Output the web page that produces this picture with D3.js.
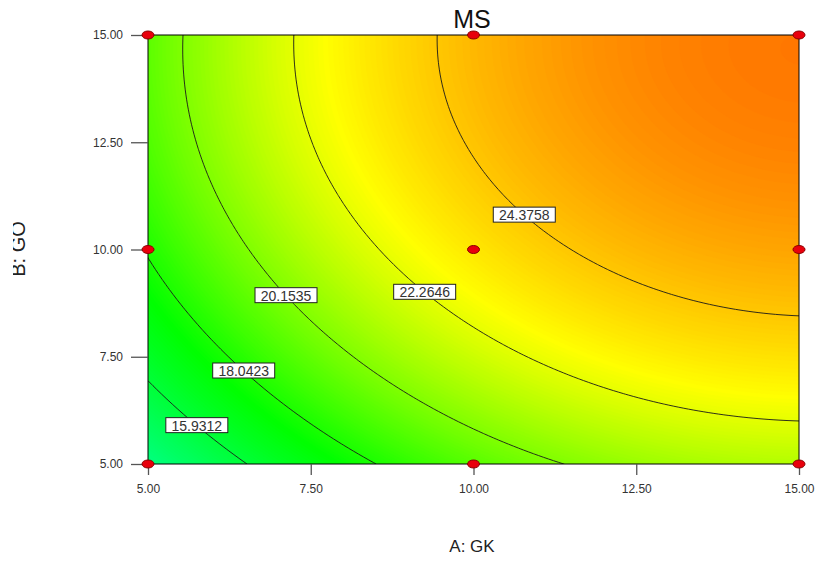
<!DOCTYPE html>
<html>
<head>
<meta charset="utf-8">
<script src="https://cdn.jsdelivr.net/npm/d3@7"></script>
<style>
  body { margin: 0; background: #fff; }
  svg text { font-family: Arial, "Liberation Sans", sans-serif; }
</style>
</head>
<body>
<div id="chart"></div>
<script>
// factor levels (design points) and predicted MS at each of them, rows = B, cols = A
const levelsA = [5, 10, 15];
const levelsB = [5, 10, 15];
const msAtDesign = [
  [13.95, 19.28, 21.2],  // B = 5
  [18.15, 23.45, 25.35], // B = 10
  [19.4, 24.8, 26.6]     // B = 15
];
const contourLevels = [15.9312, 18.0423, 20.1535, 22.2646, 24.3758];
const labelAtA = [5.75, 6.47, 7.12, 9.25, 10.78];
const ticks = [5, 7.5, 10, 12.5, 15];
const colorValues = [10.5, 17.5, 22.8, 30];
const colorRange = ['#00ffff', '#00ff00', '#ffff00', '#ff0000'];

let W = 820, H = 561;
let margin = { top: 35, right: 21, bottom: 97, left: 148 };
let pw = W - margin.left - margin.right;
let ph = H - margin.top - margin.bottom;

let x = d3.scaleLinear().domain([5, 15]).range([margin.left, margin.left + pw]);
let y = d3.scaleLinear().domain([5, 15]).range([margin.top + ph, margin.top]);
let color = d3.scaleLinear().domain(colorValues).range(colorRange).clamp(true);

// quadratic response surface through the design point values
function lag(u) { return [u * (u - 1) / 2, 1 - u * u, u * (u + 1) / 2]; }
function ms(a, b) {
  let u = (a - levelsA[1]) / (levelsA[2] - levelsA[1]);
  let v = (b - levelsB[1]) / (levelsB[2] - levelsB[1]);
  let lu = lag(u), lv = lag(v), s = 0;
  for (let j = 0; j < 3; j++)
    for (let i = 0; i < 3; i++) s += msAtDesign[j][i] * lu[i] * lv[j];
  return s;
}

let nx = 131, ny = 87;
let values = new Array(nx * ny);
for (let j = 0; j < ny; j++) {
  for (let i = 0; i < nx; i++) {
    let a = 5 + 10 * i / (nx - 1);
    let b = 15 - 10 * j / (ny - 1);
    values[j * nx + i] = ms(a, b);
  }
}
let proj = d3.geoTransform({
  point: function(gx, gy) {
    this.stream.point(
      margin.left + (gx - 0.5) / (nx - 1) * pw,
      margin.top + (gy - 0.5) / (ny - 1) * ph);
  }
});
let path = d3.geoPath(proj);

let svg = d3.select('#chart').append('svg')
  .attr('width', W).attr('height', H);

svg.append('defs').append('clipPath').attr('id', 'plotclip')
  .append('rect')
  .attr('x', margin.left).attr('y', margin.top)
  .attr('width', pw).attr('height', ph);
svg.select('defs').append('clipPath').attr('id', 'leftclip')
  .append('rect').attr('x', 13).attr('y', 0).attr('width', W).attr('height', H);

let plot = svg.append('g').attr('clip-path', 'url(#plotclip)');

// smooth colour fill built from many thin bands
let ext = d3.extent(values);
let bands = d3.range(Math.floor(ext[0] * 10) / 10 - 0.1, ext[1] + 0.1, 0.08);
plot.append('g')
  .selectAll('path')
  .data(d3.contours().size([nx, ny]).thresholds(bands)(values))
  .enter().append('path')
  .attr('d', path)
  .attr('fill', d => color(d.value + 0.04))
  .attr('stroke', d => color(d.value + 0.04))
  .attr('stroke-width', 0.6);

// labelled contour lines
plot.append('g')
  .selectAll('path')
  .data(d3.contours().size([nx, ny]).thresholds(contourLevels)(values))
  .enter().append('path')
  .attr('d', path)
  .attr('fill', 'none')
  .attr('stroke', '#1a1a1a')
  .attr('stroke-width', 0.9);

// frame
svg.append('rect')
  .attr('x', margin.left).attr('y', margin.top)
  .attr('width', pw).attr('height', ph)
  .attr('fill', 'none').attr('stroke', '#000').attr('stroke-width', 1);

// axes
let fmt = d3.format('.2f');
let gx = svg.append('g')
  .attr('transform', `translate(0, ${margin.top + ph})`)
  .call(d3.axisBottom(x).tickValues(ticks).tickFormat(fmt).tickSize(11).tickPadding(9));
let gy = svg.append('g')
  .attr('transform', `translate(${margin.left}, 0)`)
  .call(d3.axisLeft(y).tickValues(ticks).tickFormat(fmt).tickSize(17).tickPadding(8));
[gx, gy].forEach(g => {
  g.select('.domain').remove();
  g.selectAll('.tick line').attr('stroke', '#555').attr('stroke-width', 1.3);
  g.selectAll('.tick text').attr('fill', '#333').style('font-size', '12px')
    .style('font-family', 'Arial, "Liberation Sans", sans-serif');
});

// contour labels: find B on each contour at the chosen A by bisection
contourLevels.forEach((lvl, k) => {
  let a = labelAtA[k], lo = 5, hi = 15;
  let flo = ms(a, lo) - lvl;
  for (let it = 0; it < 50; it++) {
    let mid = (lo + hi) / 2, fm = ms(a, mid) - lvl;
    if ((fm > 0) === (flo > 0)) { lo = mid; flo = fm; } else hi = mid;
  }
  let b = (lo + hi) / 2;
  let g = svg.append('g').attr('transform', `translate(${x(a)}, ${y(b)})`);
  g.append('rect')
    .attr('x', -31).attr('y', -8).attr('width', 62).attr('height', 15)
    .attr('fill', '#fff').attr('stroke', '#222').attr('stroke-width', 1);
  g.append('text')
    .attr('text-anchor', 'middle').attr('y', 5)
    .style('font-size', '14px').attr('fill', '#333')
    .text(lvl.toFixed(4));
});

// design points
let pts = [];
levelsB.forEach(b => levelsA.forEach(a => pts.push({ a: a, b: b })));
svg.append('g').selectAll('ellipse')
  .data(pts)
  .enter().append('ellipse')
  .attr('cx', d => x(d.a)).attr('cy', d => y(d.b))
  .attr('rx', 6).attr('ry', 4)
  .attr('fill', '#e8000c').attr('stroke', '#8a0000').attr('stroke-width', 1);

// titles
svg.append('text')
  .attr('x', 472).attr('y', 28)
  .attr('text-anchor', 'middle')
  .style('font-size', '25px').attr('fill', '#111')
  .text('MS');

svg.append('text')
  .attr('x', 472).attr('y', 552)
  .attr('text-anchor', 'middle')
  .style('font-size', '17px').attr('fill', '#222')
  .text('A: GK');

svg.append('g').attr('clip-path', 'url(#leftclip)')
  .append('text')
  .attr('transform', 'translate(25, 249) rotate(-90)')
  .attr('text-anchor', 'middle')
  .style('font-size', '20px').attr('fill', '#222')
  .text('B: GO');
</script>
</body>
</html>
